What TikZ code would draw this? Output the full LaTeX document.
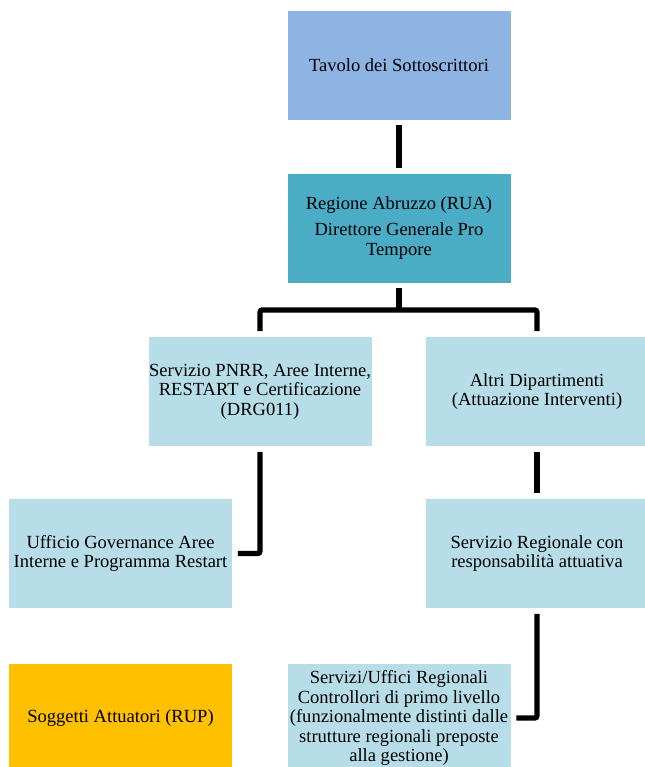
\documentclass[tikz,border=0pt]{standalone}
\usepackage{fontspec}
\setmainfont{Liberation Serif}
\usetikzlibrary{positioning}
\definecolor{tavoloblue}{RGB}{142,180,227}
\definecolor{ruateal}{RGB}{75,172,198}
\definecolor{paleblue}{RGB}{183,222,232}
\definecolor{rupgold}{RGB}{255,192,0}

\begin{document}
\begin{tikzpicture}[x=0.75pt,y=-0.75pt]
\tikzstyle{box}=[rectangle, minimum width=168pt, minimum height=82.5pt, inner sep=0pt, align=center, font=\fontsize{13.9}{14.6}\selectfont, draw=white, line width=0.4pt]
\tikzstyle{connect}=[-, line width=3.8pt, rounded corners=1.5pt, shorten <=3.8pt, shorten >=3.8pt]
\useasboundingbox (0,0) rectangle (645,767);
\node[box, fill=tavoloblue] (tavolo) at (399,65) {Tavolo dei Sottoscrittori};
\node[box, fill=ruateal] (rua) at (399,228) {Regione Abruzzo (RUA)\\[5pt] Direttore Generale Pro\\ Tempore};
\node[box, fill=paleblue] (pnrr) at (260,391.5) {Servizio PNRR, Aree Interne,\\ RESTART e Certificazione\\ (DRG011)};
\node[box, fill=paleblue] (altri) at (537,391.5) {Altri Dipartimenti\\ (Attuazione Interventi)};
\node[box, fill=paleblue] (ufficio) at (120.5,553.5) {Ufficio Governance Aree\\ Interne e Programma Restart};
\node[box, fill=paleblue] (servreg) at (537,553.5) {Servizio Regionale con\\ responsabilità attuativa};
\node[box, fill=rupgold] (soggetti) at (120.5,718) {Soggetti Attuatori (RUP)};
\node[box, fill=paleblue] (controllori) at (399,718) {Servizi/Uffici Regionali\\ Controllori di primo livello\\ (funzionalmente distinti dalle\\ strutture regionali preposte\\ alla gestione)};
\coordinate (bus) at (399,310);
\draw[connect] (tavolo) -- (rua);
\draw[connect, shorten >=0pt] (rua.south) -- (bus);
\draw[connect] (pnrr.north) |- (bus) -| (altri.north);
\draw[connect] (pnrr.south) |- (ufficio.east);
\draw[connect] (altri) -- (servreg);
\draw[connect] (servreg.south) |- (controllori.east);
\end{tikzpicture}
\end{document}
